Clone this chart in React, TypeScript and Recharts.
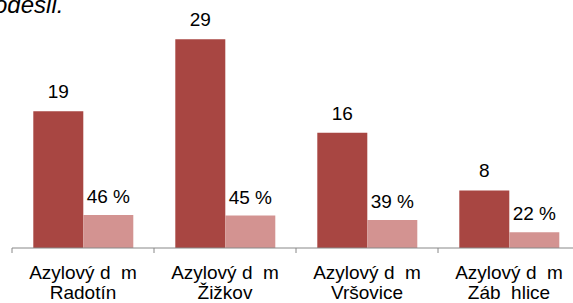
import { BarChart, Bar, XAxis, YAxis, LabelList } from 'recharts';

const homes = ['Radotín', 'Žižkov', 'Vršovice', 'Záb  hlice'];
const counts = [19, 29, 16, 8];
const shares = [46, 45, 39, 22];

const data = homes.map((h, i) => ({
  name: 'Azylový d  m\n' + h,
  count: counts[i],
  share: shares[i],
}));

const FONT = '"Liberation Sans", Arial, sans-serif';

function CatTick(props: any) {
  const { x, y, payload, index, visibleTicksCount } = props;
  const [l1, l2] = String(payload.value).split('\n');
  const half = payload.offset || 0;
  const last = index === visibleTicksCount - 1;
  return (
    <g>
      <line x1={x - half} x2={x - half} y1={y} y2={y + 5} stroke="#888" />
      {last && <line x1={x + half} x2={x + half} y1={y} y2={y + 5} stroke="#888" />}
      <text
        x={x}
        y={y + 31}
        textAnchor="middle"
        fontSize={19}
        fill="#000"
        fontFamily={FONT}
        style={{ whiteSpace: 'pre' }}
      >
        {l1}
      </text>
      <text
        x={x}
        y={y + 51}
        textAnchor="middle"
        fontSize={19}
        fill="#000"
        fontFamily={FONT}
        style={{ whiteSpace: 'pre' }}
      >
        {l2}
      </text>
    </g>
  );
}

export default function App() {
  return (
    <div
      style={{
        position: 'absolute',
        left: 0,
        top: 0,
        width: 573,
        height: 303,
        overflow: 'hidden',
        background: '#fff',
      }}
    >
      <div
        style={{
          position: 'absolute',
          left: -6,
          top: -9,
          fontFamily: FONT,
          fontStyle: 'italic',
          fontSize: 24,
          color: '#000',
          whiteSpace: 'nowrap',
        }}
      >
        odesil.
      </div>
      <BarChart
        width={600}
        height={303}
        data={data}
        margin={{ top: 32, right: 20, left: 12, bottom: 0 }}
        barCategoryGap="15%"
        barGap={0}
      >
        <XAxis
          dataKey="name"
          height={55}
          tickSize={0}
          tickMargin={0}
          axisLine={{ stroke: '#888' }}
          tick={<CatTick />}
          interval={0}
        />
        <YAxis yAxisId="n" hide domain={[0, 30]} />
        <YAxis yAxisId="p" hide orientation="right" domain={[0, 300]} />
        <Bar dataKey="count" yAxisId="n" fill="#A84642" isAnimationActive={false}>
          <LabelList
            dataKey="count"
            position="top"
            offset={13}
            fontSize={19}
            fill="#000"
            fontFamily={FONT}
          />
        </Bar>
        <Bar dataKey="share" yAxisId="p" fill="#D39391" isAnimationActive={false}>
          <LabelList
            dataKey="share"
            position="top"
            offset={12}
            fontSize={19}
            fill="#000"
            fontFamily={FONT}
            formatter={(v: any) => `${v} %`}
          />
        </Bar>
      </BarChart>
    </div>
  );
}
